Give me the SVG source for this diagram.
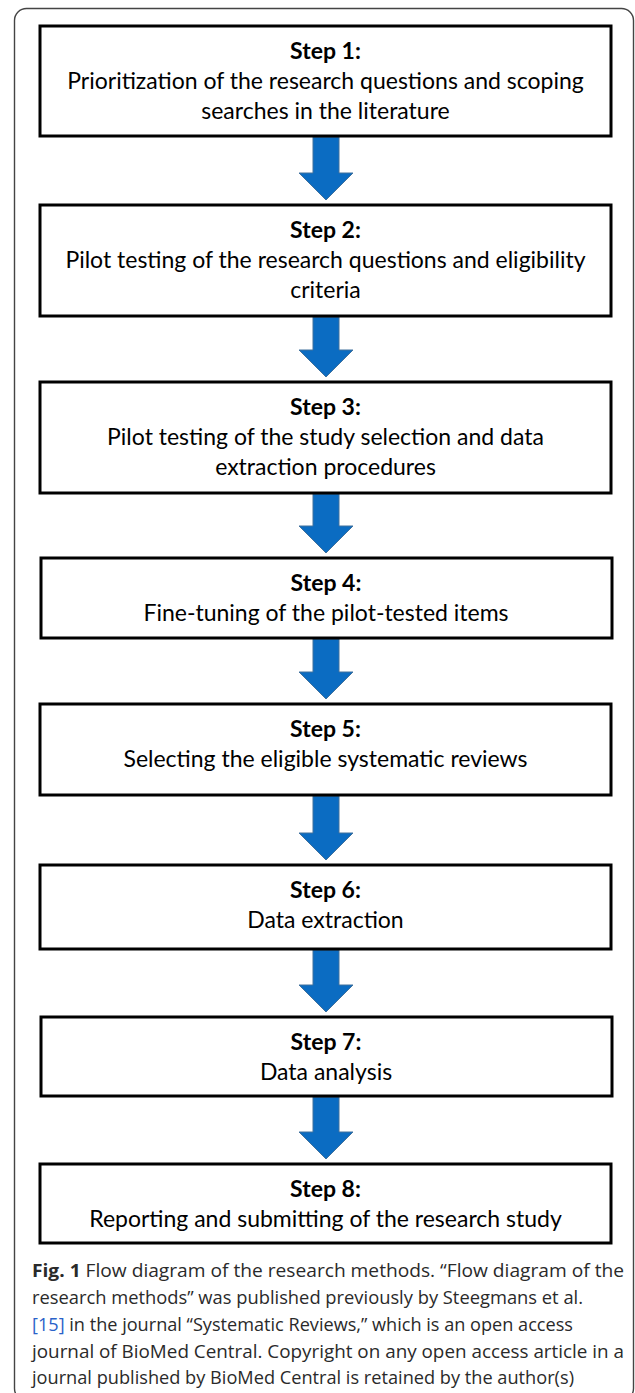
<svg xmlns="http://www.w3.org/2000/svg" width="635" height="1393" viewBox="0 0 635 1393">
<style>
.frame{fill:none;stroke:#444;stroke-width:1.4}
.box{fill:#fff;stroke:#000;stroke-width:3}
.t{font-family:Lato,"Open Sans",sans-serif;font-size:23px;fill:#000;text-anchor:middle}
.b{font-weight:bold}
.arrow{fill:#0b6cc2;stroke:#41719c;stroke-width:1}
.cap{font-family:"Open Sans","Noto Sans",sans-serif;font-size:18.5px;fill:#2a2a2a}
.link{fill:#2a62c9}
</style>
<rect width="635" height="1393" fill="#fff"/>
<rect class="frame" x="14.5" y="8.5" width="619" height="1392" rx="12"/>
<g id="connectors">
<path class="arrow" d="M313,137H339V173H353L326,200L299,173H313Z"/>
<path class="arrow" d="M313,317H339V350H353L326,377L299,350H313Z"/>
<path class="arrow" d="M313,494H339V526H353L326,553L299,526H313Z"/>
<path class="arrow" d="M313,639H339V672H353L326,699L299,672H313Z"/>
<path class="arrow" d="M313,796H339V833H353L326,860L299,833H313Z"/>
<path class="arrow" d="M313,950H339V985H353L326,1012L299,985H313Z"/>
<path class="arrow" d="M313,1097H339V1132H353L326,1159L299,1132H313Z"/>
</g>
<g id="step1">
<rect class="box" x="40" y="26" width="571" height="110"/>
<text class="t b" x="325.5" y="59">Step 1:</text>
<text class="t" x="325.5" y="89">Prioritization of the research questions and scoping</text>
<text class="t" x="325.5" y="119">searches in the literature</text>
</g>
<g id="step2">
<rect class="box" x="40" y="205" width="571" height="111"/>
<text class="t b" x="325.5" y="238">Step 2:</text>
<text class="t" x="325.5" y="268">Pilot testing of the research questions and eligibility</text>
<text class="t" x="325.5" y="298">criteria</text>
</g>
<g id="step3">
<rect class="box" x="40" y="382" width="571" height="111"/>
<text class="t b" x="325.5" y="415">Step 3:</text>
<text class="t" x="325.5" y="445">Pilot testing of the study selection and data</text>
<text class="t" x="325.5" y="475">extraction procedures</text>
</g>
<g id="step4">
<rect class="box" x="41" y="558" width="571" height="80"/>
<text class="t b" x="326" y="591">Step 4:</text>
<text class="t" x="326" y="621">Fine-tuning of the pilot-tested items</text>
</g>
<g id="step5">
<rect class="box" x="40" y="704" width="571" height="91"/>
<text class="t b" x="325.5" y="737">Step 5:</text>
<text class="t" x="325.5" y="767">Selecting the eligible systematic reviews</text>
</g>
<g id="step6">
<rect class="box" x="40" y="865" width="571" height="84"/>
<text class="t b" x="325.5" y="898">Step 6:</text>
<text class="t" x="325.5" y="928">Data extraction</text>
</g>
<g id="step7">
<rect class="box" x="41" y="1017" width="571" height="79"/>
<text class="t b" x="326" y="1050">Step 7:</text>
<text class="t" x="326" y="1080">Data analysis</text>
</g>
<g id="step8">
<rect class="box" x="40" y="1164" width="571" height="79"/>
<text class="t b" x="325.5" y="1197">Step 8:</text>
<text class="t" x="325.5" y="1227">Reporting and submitting of the research study</text>
</g>
<g id="caption">
<text class="cap" x="32" y="1277" textLength="592" lengthAdjust="spacingAndGlyphs"><tspan font-weight="bold">Fig. 1</tspan> Flow diagram of the research methods. “Flow diagram of the</text>
<text class="cap" x="32" y="1304" textLength="551" lengthAdjust="spacingAndGlyphs">research methods” was published previously by Steegmans et al.</text>
<text class="cap" x="32" y="1331" textLength="541" lengthAdjust="spacingAndGlyphs"><tspan class="link">[15]</tspan> in the journal “Systematic Reviews,” which is an open access</text>
<text class="cap" x="32" y="1358" textLength="592" lengthAdjust="spacingAndGlyphs">journal of BioMed Central. Copyright on any open access article in a</text>
<text class="cap" x="32" y="1384" textLength="542" lengthAdjust="spacingAndGlyphs">journal published by BioMed Central is retained by the author(s)</text>
</g>
</svg>
